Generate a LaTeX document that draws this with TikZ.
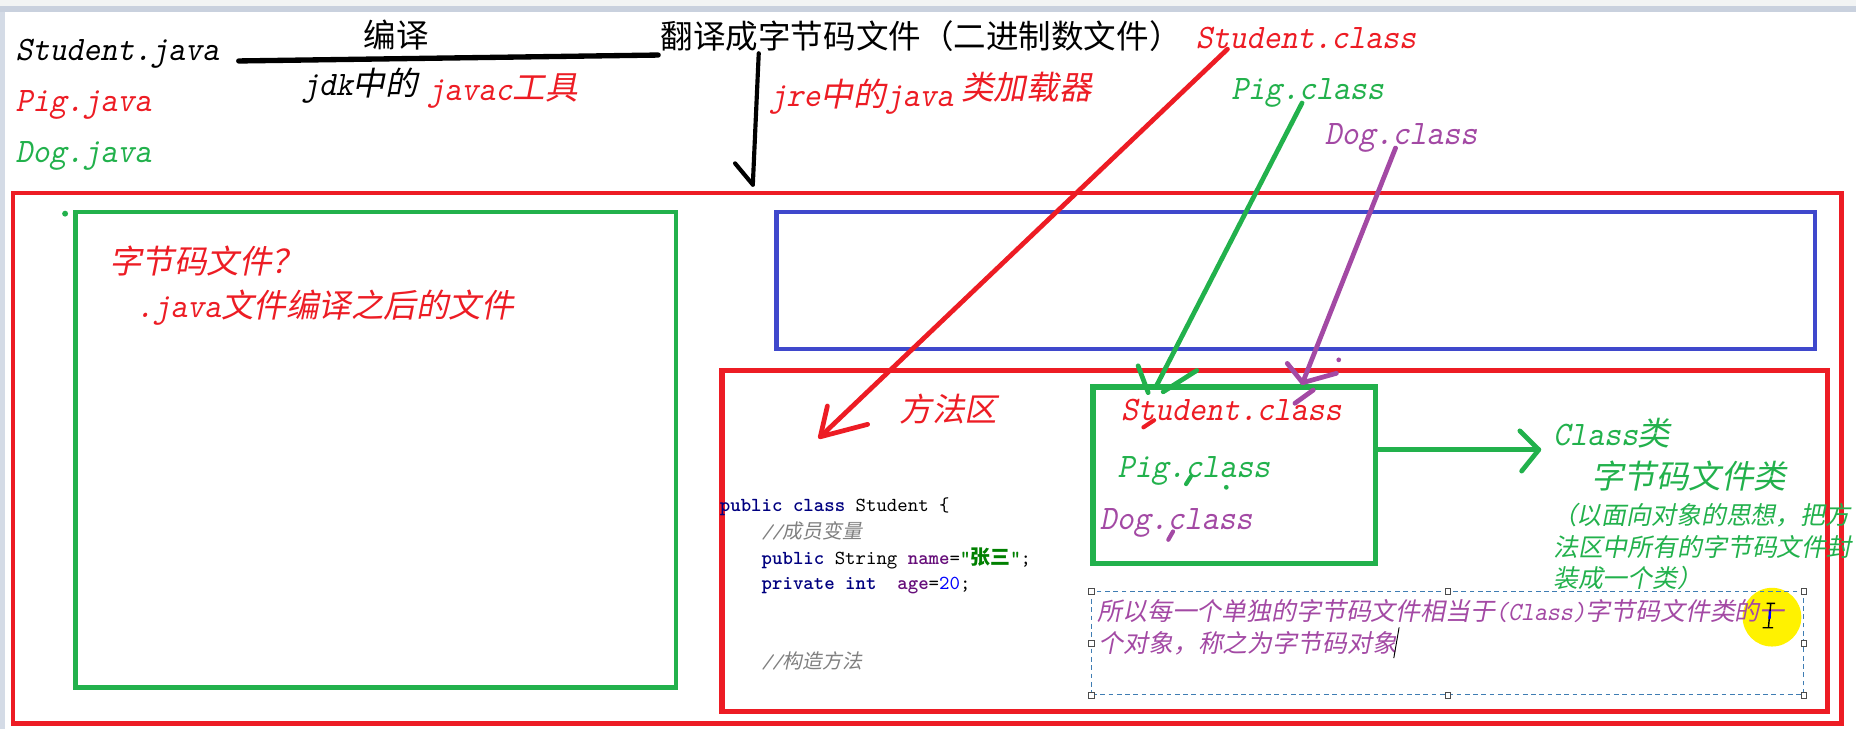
\documentclass[tikz,border=0pt]{standalone}
\usepackage{fontspec}
\usetikzlibrary{positioning}
\newfontfamily\hanzi[FakeSlant=0.2]{Noto Sans CJK SC}
\newfontfamily\hanziup{Noto Sans CJK SC}
\newfontfamily\latn[Extension=.otf,FakeSlant=0.2,FakeStretch=0.94,Scale=1.055]{lmmono10-regular}
\newfontfamily\codef[Extension=.otf,BoldFont=lmmonolt10-bold,ItalicFont=lmmono10-italic]{lmmono10-regular}
\newfontfamily\codehan[Scale=1.0]{Noto Sans CJK SC}
\newfontfamily\codehanit[FakeSlant=0.2,Scale=1.0]{Noto Sans CJK SC}

\definecolor{paintred}{HTML}{ED1C24}
\definecolor{paintgreen}{HTML}{22B14C}
\definecolor{paintpurple}{HTML}{A349A4}
\definecolor{paintblue}{HTML}{3F48CC}
\definecolor{kwblue}{HTML}{000080}
\definecolor{fldpurple}{HTML}{660E7A}
\definecolor{strgreen}{HTML}{008000}
\definecolor{numblue}{HTML}{0000FF}
\definecolor{cmtgray}{HTML}{808080}
\definecolor{dashblue}{HTML}{3F7DB3}
\definecolor{topgray}{HTML}{F2F4F4}
\definecolor{bandgray}{HTML}{C9D1DE}
\definecolor{leftgray}{HTML}{D4DBE6}

% code colouring
\newcommand\kw[1]{{\color{kwblue}\bfseries #1}}
\newcommand\fld[1]{{\color{fldpurple}\bfseries #1}}
\newcommand\jstr[1]{{\color{strgreen}\bfseries "{\codehan #1}"}}
\newcommand\jnum[1]{{\color{numblue}#1}}
\newcommand\cmt[1]{{\color{cmtgray}{\itshape //}{\codehanit #1}}}
\newcommand\ind{\hphantom{\codef 0000}}

\begin{document}
\begin{tikzpicture}[
    x=1pt, y=-1pt,
    note/.style={
        inner sep=0pt,
        anchor=base west,
        font=\fontsize{27.5}{33}\selectfont\hanzi
    },
    smallnote/.style={
        note,
        font=\fontsize{21}{25}\selectfont\hanzi
    },
    codeline/.style={
        inner sep=0pt,
        anchor=base west,
        font=\fontsize{16.8}{20}\selectfont\codef
    },
    framebox/.style={
        draw, line width=4pt, inner sep=0pt, outer sep=0pt
    },
    pen/.style={
        line width=4pt, line cap=round, line join=round
    },
    handle/.style={
        draw=black!70, fill=white, line width=0.8pt,
        minimum size=4.5pt, inner sep=0pt
    }
]

% Window
\fill[white] (0,0) rectangle (1568,616);
\fill[topgray] (0,0) rectangle (1568,5);
\fill[bandgray] (0,5) rectangle (1568,10);
\fill[leftgray] (0,10) rectangle (4,616);
\useasboundingbox (0,0) rectangle (1568,616);

\node[circle, fill=yellow, minimum size=49.6pt, inner sep=0pt] (spot) at (1497,521.4) {};

% Frames
\node[framebox, paintred, minimum width=1545pt, minimum height=448pt] (outer) at (783.5,387) {};
\node[framebox, paintgreen, minimum width=507pt, minimum height=402pt] (srcbox) at (317.5,380) {};
\node[framebox, paintblue, line width=3.5pt, minimum width=877pt, minimum height=116pt] (jvmbox) at (1094.5,237) {};
\node[framebox, paintred, line width=4.5pt, minimum width=934pt, minimum height=288pt] (method) at (1077,457) {};
\node[framebox, paintgreen, line width=4.5pt, minimum width=238.5pt, minimum height=149pt] (classbox) at (1042.75,401.5) {};
\node[draw=dashblue, line width=0.9pt, dash pattern=on 4pt off 3pt, inner sep=0pt,
      minimum width=601pt, minimum height=87pt] (notebox) at (1223,543.5) {};
\foreach \a [count=\i] in {north west, north, north east, west, east, south west, south, south east}
    \node[handle] (h\i) at (notebox.\a) {};
\node[circle, fill=paintgreen, inner sep=0pt, minimum size=5pt] (gdot) at (55,180.5) {};

% Top texts
\node[note] (stujava) at (13,51) {\latn Student.java};
\node[note, paintred] (pigjava) at (13,94) {\latn Pig.java};
\node[note, paintgreen] (dogjava) at (13,137) {\latn Dog.java};
\node[note, font=\fontsize{27.5}{33}\selectfont\hanziup] (bianyi) at (307,40) {编译};
\node[note, font=\fontsize{27.5}{33}\selectfont\hanziup] (fanyi) at (558,41) {翻译成字节码文件（二进制数文件）};
\node[note, paintred] (stucls) at (1010,41) {\latn Student.class};
\node[note] (jdk) at (255,81) {{\latn jdk}中的};
\node[note, paintred] (javac) at (361,85) {\latn javac};
\node[note, paintred] (gongju) at (433,84) {工具};
\node[note, paintred] (jre) at (650,90) {{\latn jre}中的{\latn java}};
\node[note, paintred] (loader) at (812,84) {类加载器};
\node[note, paintgreen] (pigcls) at (1040,84) {\latn Pig.class};
\node[note, paintpurple] (dogcls) at (1119,122) {\latn Dog.class};

% Bytecode box
\node[note, paintred] (bcq) at (92,231) {字节码文件？};
\node[note, paintred] (bcans) at (115,268) {{\latn .java}文件编译之后的文件};

% Method area
\node[note, paintred] (ffq) at (760,356) {方法区};
\node[note, paintred] (stuin) at (947,355) {\latn Student.class};
\node[note, paintgreen] (pigin) at (944,403) {\latn Pig.class};
\node[note, paintpurple] (dogin) at (929,447) {\latn Dog.class};

\node[codeline] (code1) at (608,432.3) {\kw{public class} Student \{};
\node[codeline] (code2) at (608,454.8) {\ind\cmt{成员变量}};
\node[codeline] (code3) at (608,476.5) {\ind\kw{public} String \fld{name}=\jstr{张三};};
\node[codeline] (code4) at (608,497.9) {\ind\kw{private int}\ \ \fld{age}=\jnum{20};};
\node[codeline] (code5) at (608,564.6) {\ind\cmt{构造方法}};

\node[note, paintgreen] (clslei) at (1312,376) {{\latn Class}类};
\node[note, paintgreen] (zjmlei) at (1344,413) {字节码文件类};
\node[smallnote, paintgreen] (expl1) at (1311,443) {（以面向对象的思想，把方};
\node[smallnote, paintgreen] (expl2) at (1312,470) {法区中所有的字节码文件封};
\node[smallnote, paintgreen] (expl3) at (1312,496) {装成一个类）};

\node[smallnote, paintpurple] (note1) at (927,524) {所以每一个单独的字节码文件相当于{\latn (Class)}字节码文件类的一};
\node[smallnote, paintpurple] (note2) at (928,551) {个对象，称之为字节码对象};

% Cursors
\draw[line width=0.8pt] (1182,530) -- (1177.5,556);
\draw[line width=1.2pt] (1492.5,509.7) -- (1499.6,509.7) (1496,509.7) -- (1494,530.3) (1489,530.3) -- (1498,530.3);
\draw[blue, line width=2pt] (1495.3,516) -- (1494.9,523);

% Arrows
\coordinate (redtip) at (693,369);
\coordinate (redbarbA) at (699,343);
\coordinate (redbarbB) at (733,358.5);
\coordinate (greentip) at (976.6,326.7);
\coordinate (purpletip) at (1100.5,323.3);
\coordinate (blacktip) at (636,156);
\coordinate (clsarrow) at (1300,380);

\draw[pen, line width=4.5pt] ([xshift=16.5pt,yshift=-0.5pt]stujava.base east) -- ([xshift=-2pt,yshift=-5.5pt]fanyi.base west);
\draw[pen, line width=3.5pt] ([xshift=83pt,yshift=-4pt]fanyi.base west) -- (blacktip);
\draw[pen, line width=3.5pt] (621,138) -- (blacktip);

\draw[pen, paintred] ([xshift=27pt,yshift=-0.5pt]stucls.base west) -- (redtip);
\draw[pen, paintred] (redbarbA) -- (redtip) -- (redbarbB);
\draw[pen, paintred, line width=3.5pt] (966,361) -- (975,355);

\draw[pen, paintgreen] ([xshift=60pt,yshift=-3pt]pigcls.base west) -- (greentip);
\draw[pen, paintgreen] (961.5,309) -- (970,331.7);
\draw[pen, paintgreen] (982.7,331) -- (1011,313);
\draw[pen, paintgreen, line width=3.5pt] (1002,409) -- (1006,402.7);
\fill[paintgreen] (1036,411.7) circle[radius=2pt];

\draw[pen, paintpurple] ([xshift=60pt,yshift=-3pt]dogcls.base west) -- (purpletip);
\draw[pen, paintpurple] (1087.5,307) -- (purpletip) -- (1129,315.4);
\draw[pen, paintpurple] (1094,340.7) -- (1109.5,329.5);
\draw[pen, paintpurple, line width=3.5pt] (987,456) -- (991,449);
\fill[paintpurple] (1131,304) circle[radius=2pt];

\draw[pen, paintgreen] (classbox.east |- clsarrow) -- (clsarrow);
\draw[pen, paintgreen] (1284,364) -- (clsarrow) -- (1285.5,398);

\end{tikzpicture}
\end{document}
